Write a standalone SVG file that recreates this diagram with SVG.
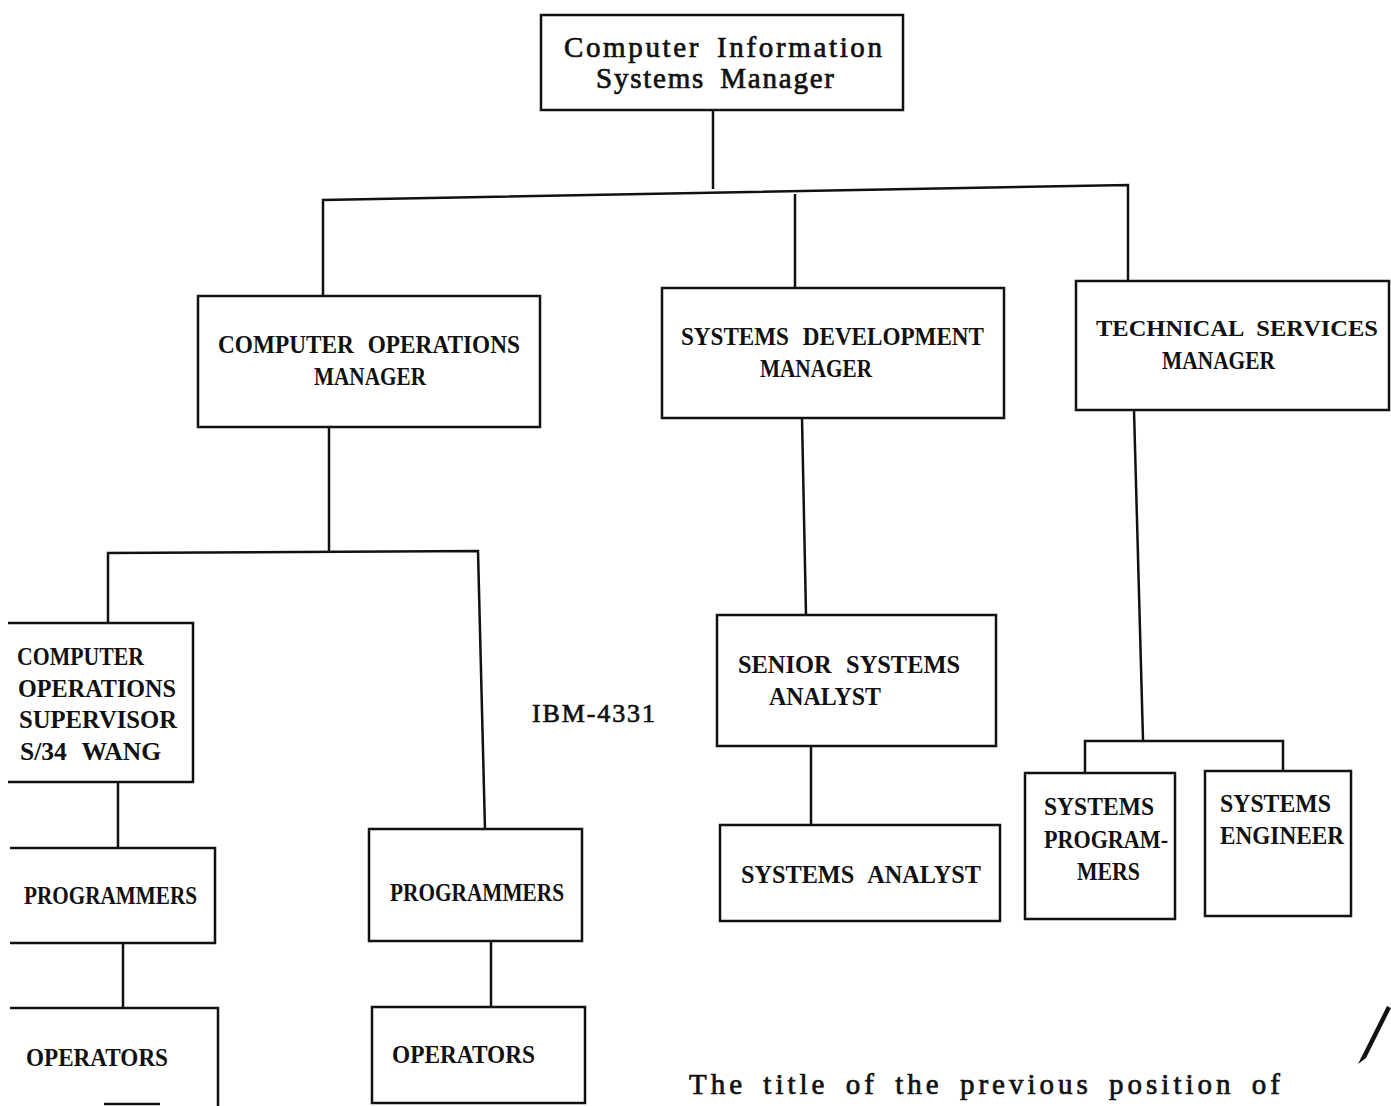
<svg xmlns="http://www.w3.org/2000/svg" width="1391" height="1106" viewBox="0 0 1391 1106">
<style>
.box{fill:none;stroke:#111;stroke-width:2.5}
.ln{fill:none;stroke:#111;stroke-width:2.5}
.t{font-family:"Liberation Serif","DejaVu Serif",serif;font-size:26px;font-weight:bold;fill:#111;word-spacing:9px}
.m{font-family:"Liberation Serif","DejaVu Serif",serif;font-size:29px;font-weight:normal;fill:#111;stroke:#111;stroke-width:0.7;word-spacing:6px}
.s{font-family:"Liberation Serif","DejaVu Serif",serif;font-size:25px;font-weight:bold;fill:#111}
</style>
<rect width="1391" height="1106" fill="#fff"/>
<g id="connectors">
<path class="ln" d="M713,110 V189"/>
<path class="ln" d="M323,297 V200 L1128,185 V282"/>
<path class="ln" d="M795,194 V288"/>
<path class="ln" d="M329,427 V552"/>
<path class="ln" d="M108,623 V553 L478,551 L485,830"/>
<path class="ln" d="M118,782 V848"/>
<path class="ln" d="M123,943 V1008"/>
<path class="ln" d="M491,941 V1006"/>
<path class="ln" d="M802,418 L806,615"/>
<path class="ln" d="M811,746 V825"/>
<path class="ln" d="M1134,410 L1143,740"/>
<path class="ln" d="M1085,773 V741 H1283 V770"/>
</g>
<g id="n-cism">
<rect class="box" x="541" y="15" width="362" height="95"/>
<text class="m" x="564" y="57" textLength="318" lengthAdjust="spacing">Computer Information</text>
<text class="m" x="596" y="88" textLength="238" lengthAdjust="spacing">Systems Manager</text>
</g>
<g id="n-com">
<rect class="box" x="198" y="296" width="342" height="131"/>
<text class="t" x="218" y="353" textLength="302" lengthAdjust="spacingAndGlyphs">COMPUTER OPERATIONS</text>
<text class="t" x="314" y="385" textLength="112" lengthAdjust="spacingAndGlyphs">MANAGER</text>
</g>
<g id="n-sdm">
<rect class="box" x="662" y="288" width="342" height="130"/>
<text class="t" x="681" y="345" textLength="303" lengthAdjust="spacingAndGlyphs">SYSTEMS DEVELOPMENT</text>
<text class="t" x="760" y="377" textLength="112" lengthAdjust="spacingAndGlyphs">MANAGER</text>
</g>
<g id="n-tsm">
<rect class="box" x="1076" y="281" width="313" height="129"/>
<text class="t" x="1096" y="336" textLength="282" lengthAdjust="spacingAndGlyphs" style="font-size:23.5px;word-spacing:7px">TECHNICAL SERVICES</text>
<text class="t" x="1162" y="369" textLength="113" lengthAdjust="spacingAndGlyphs">MANAGER</text>
</g>
<g id="n-cos">
<path class="box" d="M8,623 H193 V782 H8"/>
<text class="t" x="17" y="665" textLength="127" lengthAdjust="spacingAndGlyphs">COMPUTER</text>
<text class="t" x="18" y="697" textLength="158" lengthAdjust="spacingAndGlyphs">OPERATIONS</text>
<text class="t" x="19" y="728" textLength="158" lengthAdjust="spacingAndGlyphs">SUPERVISOR</text>
<text class="t" x="20" y="760" textLength="141" lengthAdjust="spacingAndGlyphs">S/34 WANG</text>
</g>
<g id="ibm">
<text class="m" x="532" y="722" textLength="123" lengthAdjust="spacing" style="font-size:26px">IBM-4331</text>
</g>
<g id="n-prog1">
<path class="box" d="M10,848 H215 V943 H10"/>
<text class="s" x="24" y="904" textLength="173" lengthAdjust="spacingAndGlyphs">PROGRAMMERS</text>
</g>
<g id="n-oper1">
<path class="box" d="M10,1008 H218 V1106 M104,1104 H160"/>
<text class="s" x="26" y="1066" textLength="142" lengthAdjust="spacingAndGlyphs">OPERATORS</text>
</g>
<g id="n-prog2">
<rect class="box" x="369" y="829" width="213" height="112"/>
<text class="s" x="390" y="901" textLength="174" lengthAdjust="spacingAndGlyphs">PROGRAMMERS</text>
</g>
<g id="n-oper2">
<rect class="box" x="372" y="1007" width="213" height="96"/>
<text class="s" x="392" y="1063" textLength="143" lengthAdjust="spacingAndGlyphs">OPERATORS</text>
</g>
<g id="n-ssa">
<rect class="box" x="717" y="615" width="279" height="131"/>
<text class="t" x="738" y="673" textLength="222" lengthAdjust="spacingAndGlyphs">SENIOR SYSTEMS</text>
<text class="t" x="769" y="705" textLength="112" lengthAdjust="spacingAndGlyphs">ANALYST</text>
</g>
<g id="n-sa">
<rect class="box" x="720" y="825" width="280" height="96"/>
<text class="t" x="741" y="883" textLength="240" lengthAdjust="spacingAndGlyphs">SYSTEMS ANALYST</text>
</g>
<g id="n-sp">
<rect class="box" x="1025" y="773" width="150" height="146"/>
<text class="t" x="1044" y="815" textLength="110" lengthAdjust="spacingAndGlyphs">SYSTEMS</text>
<text class="t" x="1044" y="848" textLength="124" lengthAdjust="spacingAndGlyphs">PROGRAM-</text>
<text class="t" x="1077" y="880" textLength="63" lengthAdjust="spacingAndGlyphs">MERS</text>
</g>
<g id="n-se">
<rect class="box" x="1205" y="771" width="146" height="145"/>
<text class="t" x="1220" y="812" textLength="111" lengthAdjust="spacingAndGlyphs">SYSTEMS</text>
<text class="t" x="1220" y="844" textLength="124" lengthAdjust="spacingAndGlyphs">ENGINEER</text>
</g>
<g id="note">
<text class="m" x="689" y="1094" textLength="591" lengthAdjust="spacing">The title of the previous position of</text>
<path d="M1387,1006 L1391,1008 L1366,1058 L1358,1064 Z" fill="#111"/>
</g>
</svg>
